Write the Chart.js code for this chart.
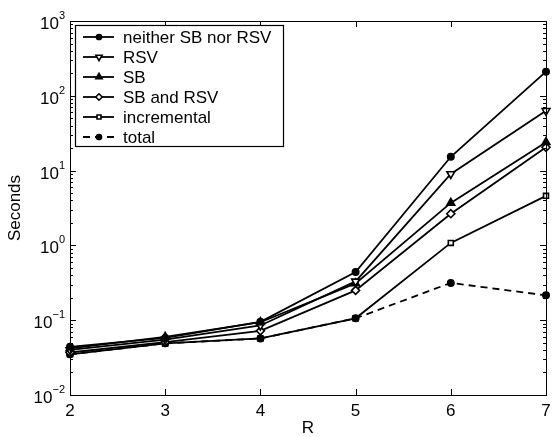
<!DOCTYPE html>
<html>
<head>
<meta charset="utf-8">
<script src="https://cdn.jsdelivr.net/npm/chart.js@4/dist/chart.umd.min.js"></script>
<style>
  body { margin: 0; background: #fff; }
  #wrap { width: 556px; height: 437px; }
</style>
</head>
<body>
<div id="wrap"><canvas id="chart" width="556" height="437"></canvas></div>
<script>
// values (seconds, log axis)
const rValues = [2, 3, 4, 5, 6, 7];
const neither = [0.044, 0.058, 0.095, 0.44, 15.3, 210];
const rsv = [0.040, 0.055, 0.085, 0.33, 9.0, 63];
const sb = [0.042, 0.060, 0.094, 0.31, 3.7, 24];
const sbAndRsv = [0.037, 0.051, 0.072, 0.25, 2.65, 20.5];
const incremental = [0.035, 0.049, 0.057, 0.106, 1.08, 4.6];
const total = [0.035, 0.049, 0.057, 0.106, 0.315, 0.215];

const xTickLabels = ['2', '3', '4', '5', '6', '7'];
const yTickExps = [-2, -1, 0, 1, 2, 3];

const FONT = '"Liberation Sans", Arial, sans-serif';

function pts(arr) {
    return rValues.map((x, i) => ({ x: x, y: arr[i] }));
}

function series(label, arr, style, extra) {
    return Object.assign({
        label: label,
        data: pts(arr),
        borderColor: '#000',
        backgroundColor: '#000',
        pointBorderColor: '#000',
        pointBackgroundColor: '#000',
        borderWidth: 1.8,
        pointBorderWidth: 1.6,
        pointRadius: 3,
        pointStyle: style,
        tension: 0,
        clip: false
    }, extra || {});
}

const datasets = [
    series('neither SB nor RSV', neither, 'circle', { pointRadius: 3.2 }),
    series('RSV', rsv, 'triangle', { pointRotation: 180, pointRadius: 4.5, pointBackgroundColor: '#fff' }),
    series('SB', sb, 'triangle', { pointRadius: 4.5 }),
    series('SB and RSV', sbAndRsv, 'rectRot', { pointRadius: 4, pointBackgroundColor: '#fff' }),
    series('total', total, 'circle', { pointRadius: 3.2, borderDash: [7, 5] }),
    series('incremental', incremental, 'rect', { pointRadius: 3.5, pointBackgroundColor: '#fff' })
];

// order shown in the legend box
const legendOrder = ['neither SB nor RSV', 'RSV', 'SB', 'SB and RSV', 'incremental', 'total'];

function drawMarker(ctx, ds, x, y, scale) {
    ctx.save();
    ctx.fillStyle = ds.pointBackgroundColor;
    ctx.strokeStyle = ds.pointBorderColor;
    ctx.lineWidth = ds.pointBorderWidth;
    ctx.setLineDash([]);
    Chart.helpers.drawPoint(ctx, {
        pointStyle: ds.pointStyle,
        rotation: ds.pointRotation || 0,
        radius: ds.pointRadius * scale,
        borderWidth: ds.pointBorderWidth
    }, x, y);
    ctx.restore();
}

const framePlugin = {
    id: 'frame',
    afterDraw(chart) {
        const ctx = chart.ctx;
        const a = chart.chartArea;
        const xs = chart.scales.x;
        const ys = chart.scales.y;
        ctx.save();
        ctx.strokeStyle = '#000';
        ctx.fillStyle = '#000';
        ctx.lineWidth = 1;

        // box
        ctx.strokeRect(a.left + 0.5, a.top + 0.5, a.right - a.left, a.bottom - a.top);

        // x ticks, inward on bottom and top
        ctx.beginPath();
        rValues.forEach(v => {
            const px = Math.round(xs.getPixelForValue(v)) + 0.5;
            ctx.moveTo(px, a.bottom); ctx.lineTo(px, a.bottom - 6);
            ctx.moveTo(px, a.top); ctx.lineTo(px, a.top + 6);
        });
        // y ticks, major and minor, both sides
        yTickExps.forEach(e => {
            for (let m = 1; m <= 9; m++) {
                if (e === 3 && m > 1) break;
                const py = Math.round(ys.getPixelForValue(m * Math.pow(10, e))) + 0.5;
                const len = m === 1 ? 6 : 3;
                ctx.moveTo(a.left, py); ctx.lineTo(a.left + len, py);
                ctx.moveTo(a.right, py); ctx.lineTo(a.right - len, py);
            }
        });
        ctx.stroke();

        // x tick labels
        ctx.font = '17px ' + FONT;
        ctx.textAlign = 'center';
        ctx.textBaseline = 'alphabetic';
        rValues.forEach((v, i) => {
            ctx.fillText(xTickLabels[i], xs.getPixelForValue(v), a.bottom + 21);
        });
        // x title
        ctx.fillText('R', (a.left + a.right) / 2, a.bottom + 38);

        // y tick labels 10^n
        yTickExps.forEach(e => {
            const py = ys.getPixelForValue(Math.pow(10, e));
            const expText = String(e).replace('-', '\u2212');
            ctx.font = '11px ' + FONT;
            const ew = ctx.measureText(expText).width;
            const expX = a.left - 5 - ew;
            ctx.textAlign = 'left';
            ctx.fillText(expText, expX, py - 2);
            ctx.font = '17px ' + FONT;
            ctx.textAlign = 'right';
            ctx.fillText('10', expX, py + 8);
        });

        // y title
        ctx.save();
        ctx.translate(20, (a.top + a.bottom) / 2);
        ctx.rotate(-Math.PI / 2);
        ctx.font = '17px ' + FONT;
        ctx.textAlign = 'center';
        ctx.fillText('Seconds', 0, 0);
        ctx.restore();

        // legend box
        const lx = 75, ly = 25, lw = 208, lh = 121;
        ctx.fillStyle = '#fff';
        ctx.fillRect(lx, ly, lw, lh);
        ctx.strokeStyle = '#000';
        ctx.lineWidth = 1.2;
        ctx.strokeRect(lx + 0.5, ly + 0.5, lw, lh);
        legendOrder.forEach((name, i) => {
            const ds = chart.data.datasets.find(d => d.label === name);
            const ry = ly + 12 + i * 20;
            ctx.strokeStyle = '#000';
            ctx.lineWidth = 1.8;
            ctx.setLineDash(ds.borderDash || []);
            ctx.beginPath();
            ctx.moveTo(lx + 8, ry);
            ctx.lineTo(lx + 39, ry);
            ctx.stroke();
            ctx.setLineDash([]);
            drawMarker(ctx, ds, lx + 24, ry, 0.8);
            ctx.fillStyle = '#000';
            ctx.font = '17px ' + FONT;
            ctx.textAlign = 'left';
            ctx.textBaseline = 'middle';
            ctx.fillText(name, lx + 48, ry + 1);
            ctx.textBaseline = 'alphabetic';
        });
        ctx.restore();
    }
};

new Chart(document.getElementById('chart').getContext('2d'), {
    type: 'line',
    data: { datasets: datasets },
    options: {
        responsive: false,
        animation: false,
        layout: { padding: { left: 70, right: 10, top: 21, bottom: 42 } },
        scales: {
            x: { type: 'linear', min: 2, max: 7, display: false },
            y: { type: 'logarithmic', min: 0.01, max: 1000, display: false }
        },
        plugins: {
            legend: { display: false },
            tooltip: { enabled: false }
        }
    },
    plugins: [framePlugin]
});
</script>
</body>
</html>
